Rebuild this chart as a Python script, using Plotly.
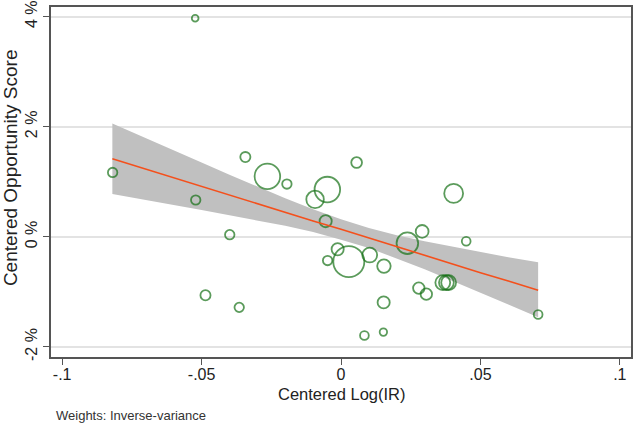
import plotly.graph_objects as go

# ---- data ----
log_ir = [-0.0523, -0.0819, -0.0521, -0.0343, -0.0264, -0.0194, -0.0093, -0.0049,
          0.0056, -0.0399, -0.0486, -0.0365, -0.0055, -0.0012, -0.0048, 0.0028,
          0.0103, 0.0154, 0.0153, 0.0084, 0.0152, 0.0238, 0.0291, 0.0449,
          0.0279, 0.0306, 0.0365, 0.0378, 0.0386, 0.0404, 0.0707]
opp_score = [3.97, 1.17, 0.67, 1.45, 1.10, 0.96, 0.68, 0.86,
             1.35, 0.04, -1.06, -1.28, 0.285, -0.225, -0.43, -0.45,
             -0.33, -0.53, -1.19, -1.79, -1.73, -0.115, 0.10, -0.08,
             -0.93, -1.04, -0.83, -0.83, -0.83, 0.79, -1.41]
inv_var_weight = [1.0, 1.96, 1.96, 2.25, 14.4, 1.96, 6.76, 14.4,
                  2.56, 1.96, 2.25, 1.96, 3.24, 3.24, 1.96, 21.2,
                  4.84, 4.0, 3.24, 1.69, 1.21, 10.24, 3.61, 1.69,
                  2.89, 2.89, 4.84, 4.84, 4.84, 7.84, 1.69]

fit_x = [-0.082, -0.07, -0.06, -0.05, -0.04, -0.03, -0.02, -0.01, 0.0,
         0.01, 0.02, 0.03, 0.04, 0.05, 0.06, 0.0707]
fit_y = [1.42, 1.23, 1.08, 0.92, 0.76, 0.61, 0.45, 0.29, 0.14,
         -0.02, -0.18, -0.33, -0.49, -0.65, -0.80, -0.97]
ci_upper = [2.06, 1.79, 1.57, 1.35, 1.13, 0.91, 0.70, 0.50, 0.32,
            0.16, 0.03, -0.08, -0.18, -0.28, -0.37, -0.46]
ci_lower = [0.78, 0.67, 0.58, 0.49, 0.40, 0.30, 0.20, 0.09, -0.05,
            -0.20, -0.39, -0.59, -0.80, -1.01, -1.23, -1.46]

x_tickvals = [-0.1, -0.05, 0, 0.05, 0.1]
x_ticktext = ["-.1", "-.05", "0", ".05", ".1"]
y_tickvals = [-2, 0, 2, 4]
y_ticktext = ["-2 %", "0 %", "2 %", "4 %"]

FONT = "Liberation Sans, Arial, sans-serif"

fig = go.Figure()

# confidence band
fig.add_trace(go.Scatter(
    x=fit_x + fit_x[::-1], y=ci_upper + ci_lower[::-1],
    fill="toself", fillcolor="#c0c0c0", line=dict(width=0),
    mode="lines", hoverinfo="skip", showlegend=False))

# bubbles
fig.add_trace(go.Scatter(
    x=log_ir, y=opp_score, mode="markers",
    marker=dict(symbol="circle-open", size=inv_var_weight, sizemode="area",
                sizeref=0.044, color="#167016", line=dict(width=1.8, color="#167016")),
    showlegend=False))

# fitted line
fig.add_trace(go.Scatter(
    x=fit_x, y=fit_y, mode="lines",
    line=dict(color="#f4501c", width=1.6), showlegend=False))

axis_common = dict(zeroline=False, showline=True, mirror=True, linecolor="#555",
                   linewidth=1.5, ticks="outside", ticklen=6, tickwidth=1.3,
                   tickcolor="#555", automargin=False,
                   tickfont=dict(size=16, color="#222"))

fig.update_layout(
    width=636, height=425,
    margin=dict(l=51, r=5, t=7, b=68),
    paper_bgcolor="white", plot_bgcolor="white",
    font=dict(family=FONT, size=16, color="#222"),
    xaxis=dict(range=[-0.104, 0.104], tickvals=x_tickvals, ticktext=x_ticktext,
               showgrid=False, ticklabelstandoff=-4, **axis_common),
    yaxis=dict(range=[-2.182, 4.176], tickvals=y_tickvals, ticktext=y_ticktext,
               tickangle=-90, showgrid=True, gridcolor="#e3e3e3", gridwidth=1.5,
               **axis_common),
    annotations=[
        dict(text="Centered Log(IR)", xref="paper", yref="paper",
             x=0.5, y=-0.106, xanchor="center", yanchor="middle",
             showarrow=False, font=dict(size=16.5, color="#222")),
        dict(text="Centered Opportunity Score", xref="paper", yref="paper",
             x=-0.0705, y=0.54, xanchor="center", yanchor="middle", textangle=-90,
             showarrow=False, font=dict(size=19, color="#222")),
        dict(text="Weights: Inverse-variance", xref="paper", yref="paper",
             x=0.005, y=-0.167, xanchor="left", yanchor="middle",
             showarrow=False, font=dict(size=13, color="#333")),
    ],
)

fig.write_html("out.html", config={"displayModeBar": False},
               post_script="document.body.style.margin='0';document.body.style.overflow='hidden';")
